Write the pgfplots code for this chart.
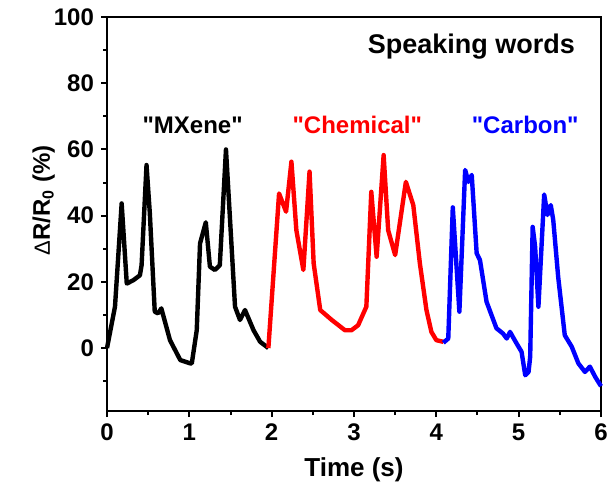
\documentclass[border=0pt]{standalone}
\usepackage{fontspec}
\setmainfont{Liberation Sans}
\usepackage{pgfplots}
\pgfplotsset{compat=1.18}
\begin{document}
\begin{tikzpicture}
\begin{axis}[
  at={(0,0)}, anchor=south west,
  scale only axis, width=247pt, height=197pt,
  xmin=0, xmax=6, ymin=-19, ymax=100,
  xtick={0,1,2,3,4,5,6}, minor xtick={0.5,1.5,2.5,3.5,4.5,5.5},
  ytick={0,20,40,60,80,100}, minor ytick={-10,10,30,50,70,90},
  tick pos=left, tick align=outside,
  major tick length=3pt, minor tick length=2pt,
  every tick/.style={line width=1pt, black},
  axis line style={line width=1.1pt},
  /pgf/number format/assume math mode=true,
  ticklabel style={font=\fontsize{12}{14}\selectfont\bfseries},
  xlabel={\textbf{Time (s)}},
  ylabel={{\fontsize{11}{14}\selectfont Δ}\textbf{R/R\textsubscript{0} (\%)}},
  xlabel style={font=\fontsize{13}{15}\selectfont, at={(axis description cs:0.5,-0.148)}, anchor=center},
  ylabel style={font=\fontsize{12}{14}\selectfont, at={(axis description cs:-0.128,0.535)}, anchor=center},
  clip=false,
]
\addplot[black, line width=2.2pt, line join=round] coordinates {
(0,0) (0.097,12.5) (0.178,43.7) (0.24,19.5) (0.32,20.5) (0.40,22) (0.42,25)
(0.48,55.3) (0.52,40.8) (0.58,11) (0.62,10.5) (0.66,12) (0.765,2.4) (0.89,-3.6)
(1.01,-4.6) (1.03,-4.6) (1.09,5.4) (1.13,31.6) (1.20,38) (1.25,24.6) (1.31,23.6)
(1.37,25) (1.445,60) (1.49,40.7) (1.555,12.5) (1.615,8.5) (1.676,11.5)
(1.78,5.4) (1.86,1.9) (1.94,0.4) (1.96,0)
};
\addplot[red, line width=2.2pt, line join=round] coordinates {
(1.96,0) (2.09,46.7) (2.175,41.2) (2.24,56.3) (2.30,35.6) (2.385,23.6)
(2.46,53.3) (2.51,25.6) (2.59,11.5) (2.73,8.5) (2.89,5.4) (2.97,5.4) (3.05,6.9)
(3.15,12.5) (3.21,47.2) (3.275,27.6) (3.36,58.3) (3.415,35.6) (3.50,28.1)
(3.63,50.2) (3.72,43.2) (3.80,25.6) (3.88,11.5) (3.94,4.9) (4.00,2.4) (4.085,1.9)
};
\addplot[blue, line width=2.2pt, line join=round] coordinates {
(4.085,1.6) (4.145,2.9) (4.20,42.5) (4.28,11) (4.35,53.8) (4.39,50.2)
(4.43,52.3) (4.49,28.6) (4.53,26.6) (4.61,14) (4.73,6) (4.81,4.4) (4.855,2.9)
(4.895,4.9) (4.975,1.4) (5.035,-1.1) (5.08,-8.2) (5.12,-7.2) (5.14,-2.6)
(5.17,36.6) (5.20,30.6) (5.24,12.5) (5.31,46.4) (5.35,40.2) (5.39,43.2)
(5.42,38.7) (5.48,21.5) (5.56,3.9) (5.645,0.4) (5.725,-4.6) (5.805,-7.2)
(5.865,-5.6) (5.93,-8.7) (6.0,-11.5)
};
\node[font=\fontsize{12}{14}\selectfont\bfseries, black] at (axis cs:1.04,67.4) {\textquotedbl MXene\textquotedbl};
\node[font=\fontsize{12}{14}\selectfont\bfseries, red] at (axis cs:3.04,67.4) {\textquotedbl Chemical\textquotedbl};
\node[font=\fontsize{12}{14}\selectfont\bfseries, blue] at (axis cs:5.08,67.4) {\textquotedbl Carbon\textquotedbl};
\node[font=\fontsize{13.5}{15}\selectfont\bfseries, black, anchor=east] at (axis cs:5.77,91) {Speaking words};
\end{axis}
\pgfresetboundingbox
\path[use as bounding box] (-53.5pt,-42pt) rectangle (250.5pt,205.5pt);
\end{tikzpicture}
\end{document}
